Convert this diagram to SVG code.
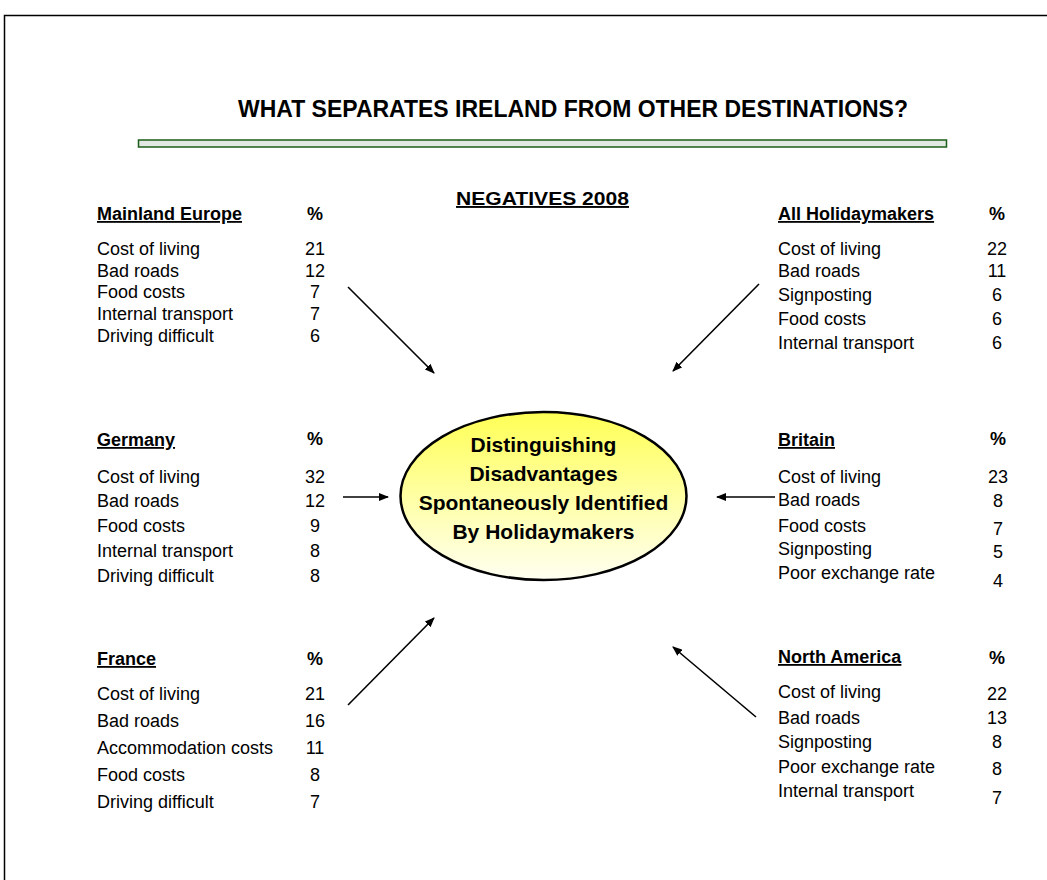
<svg xmlns="http://www.w3.org/2000/svg" width="1047" height="880" viewBox="0 0 1047 880">
<defs>
<linearGradient id="yg" x1="0" y1="0" x2="0" y2="1">
<stop offset="0" stop-color="#ffff55"/>
<stop offset="1" stop-color="#fffff2"/>
</linearGradient>
<marker id="ah" markerWidth="10" markerHeight="8" refX="9" refY="4" orient="auto" markerUnits="userSpaceOnUse">
<path d="M0,0 L10,4 L0,8 Z" fill="#000"/>
</marker>
<style>
text{font-family:"Liberation Sans",Arial,sans-serif;fill:#000}
.t{font-size:18px}
.h{font-size:18px;font-weight:bold;text-decoration:underline}
.p{font-size:18px;font-weight:bold;text-anchor:middle}
.n{font-size:18px;text-anchor:middle}
.c{font-size:21px;font-weight:bold;text-anchor:middle}
.ar{stroke:#000;stroke-width:1.6;fill:none;marker-end:url(#ah)}
</style>
</defs>
<rect width="1047" height="880" fill="#fff"/>
<rect x="4.5" y="15.5" width="1100" height="1000" fill="none" stroke="#000" stroke-width="1.5"/>
<g id="title">
<text x="573" y="117" font-size="23" font-weight="bold" text-anchor="middle" textLength="670" lengthAdjust="spacingAndGlyphs">WHAT SEPARATES IRELAND FROM OTHER DESTINATIONS?</text>
<rect x="138.5" y="140" width="808" height="7" fill="#e2e8e2" stroke="#1a5e1a" stroke-width="1.5"/>
<text x="542.5" y="205" font-size="19" font-weight="bold" text-anchor="middle" text-decoration="underline" textLength="173" lengthAdjust="spacingAndGlyphs">NEGATIVES 2008</text>
</g>
<g id="center">
<ellipse cx="543.5" cy="496" rx="143" ry="84" fill="url(#yg)" stroke="#000" stroke-width="2.5"/>
<text class="c" x="543.5" y="452">Distinguishing</text>
<text class="c" x="543.5" y="481">Disadvantages</text>
<text class="c" x="543.5" y="510">Spontaneously Identified</text>
<text class="c" x="543.5" y="539">By Holidaymakers</text>
</g>
<g id="mainland-europe">
<text class="h" x="97" y="220">Mainland Europe</text>
<text class="p" x="315" y="220">%</text>
<text class="t" x="97" y="255">Cost of living</text><text class="n" x="315" y="255">21</text>
<text class="t" x="97" y="276.7">Bad roads</text><text class="n" x="315" y="276.7">12</text>
<text class="t" x="97" y="298.3">Food costs</text><text class="n" x="315" y="298.3">7</text>
<text class="t" x="97" y="320">Internal transport</text><text class="n" x="315" y="320">7</text>
<text class="t" x="97" y="341.7">Driving difficult</text><text class="n" x="315" y="341.7">6</text>
</g>
<g id="all-holidaymakers">
<text class="h" x="778" y="220">All Holidaymakers</text>
<text class="p" x="997" y="220">%</text>
<text class="t" x="778" y="255">Cost of living</text><text class="n" x="997" y="255">22</text>
<text class="t" x="778" y="277">Bad roads</text><text class="n" x="997" y="277">11</text>
<text class="t" x="778" y="301">Signposting</text><text class="n" x="997" y="301">6</text>
<text class="t" x="778" y="325">Food costs</text><text class="n" x="997" y="325">6</text>
<text class="t" x="778" y="349">Internal transport</text><text class="n" x="997" y="349">6</text>
</g>
<g id="germany">
<text class="h" x="97" y="446">Germany</text>
<text class="p" x="315" y="445">%</text>
<text class="t" x="97" y="483">Cost of living</text><text class="n" x="315" y="483">32</text>
<text class="t" x="97" y="507">Bad roads</text><text class="n" x="315" y="507">12</text>
<text class="t" x="97" y="532">Food costs</text><text class="n" x="315" y="532">9</text>
<text class="t" x="97" y="557">Internal transport</text><text class="n" x="315" y="557">8</text>
<text class="t" x="97" y="582">Driving difficult</text><text class="n" x="315" y="582">8</text>
</g>
<g id="britain">
<text class="h" x="778" y="446">Britain</text>
<text class="p" x="998" y="445">%</text>
<text class="t" x="778" y="483">Cost of living</text><text class="n" x="998" y="483">23</text>
<text class="t" x="778" y="506">Bad roads</text><text class="n" x="998" y="507">8</text>
<text class="t" x="778" y="532">Food costs</text><text class="n" x="998" y="535">7</text>
<text class="t" x="778" y="555">Signposting</text><text class="n" x="998" y="558">5</text>
<text class="t" x="778" y="579">Poor exchange rate</text><text class="n" x="998" y="587">4</text>
</g>
<g id="france">
<text class="h" x="97" y="665">France</text>
<text class="p" x="315" y="665">%</text>
<text class="t" x="97" y="700">Cost of living</text><text class="n" x="315" y="700">21</text>
<text class="t" x="97" y="727">Bad roads</text><text class="n" x="315" y="727">16</text>
<text class="t" x="97" y="754">Accommodation costs</text><text class="n" x="315" y="754">11</text>
<text class="t" x="97" y="781">Food costs</text><text class="n" x="315" y="781">8</text>
<text class="t" x="97" y="808">Driving difficult</text><text class="n" x="315" y="808">7</text>
</g>
<g id="north-america">
<text class="h" x="778" y="663">North America</text>
<text class="p" x="997" y="664">%</text>
<text class="t" x="778" y="698">Cost of living</text><text class="n" x="997" y="700">22</text>
<text class="t" x="778" y="724">Bad roads</text><text class="n" x="997" y="724">13</text>
<text class="t" x="778" y="748">Signposting</text><text class="n" x="997" y="748">8</text>
<text class="t" x="778" y="773">Poor exchange rate</text><text class="n" x="997" y="775">8</text>
<text class="t" x="778" y="797">Internal transport</text><text class="n" x="997" y="804">7</text>
</g>
<g id="connectors">
<line class="ar" x1="348" y1="287" x2="434" y2="373"/>
<line class="ar" x1="759" y1="284" x2="673" y2="371"/>
<line class="ar" x1="343" y1="497" x2="388" y2="497"/>
<line class="ar" x1="775" y1="497" x2="717" y2="497"/>
<line class="ar" x1="348" y1="705" x2="434" y2="618"/>
<line class="ar" x1="756" y1="717" x2="673" y2="647"/>
</g>
</svg>
